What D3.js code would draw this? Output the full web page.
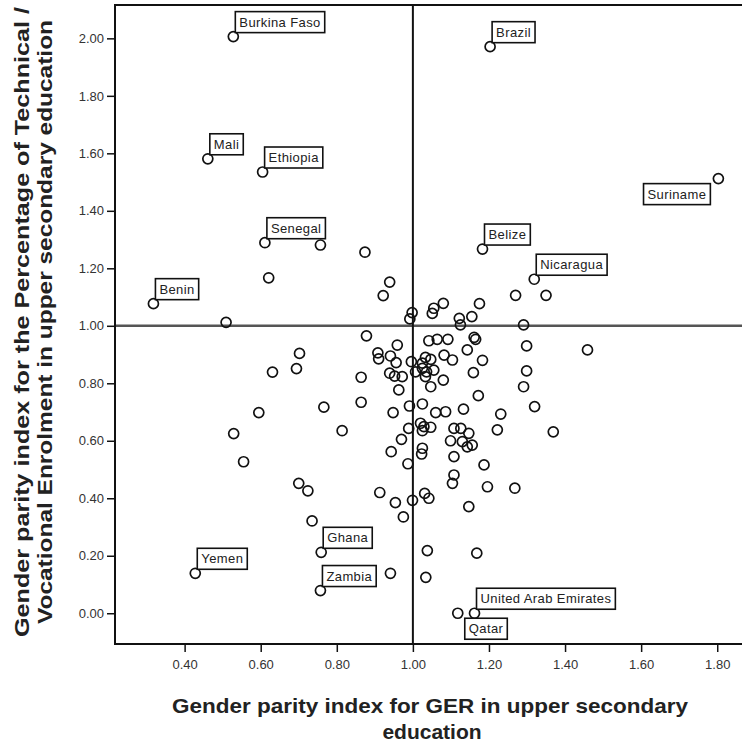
<!DOCTYPE html>
<html>
<head>
<meta charset="utf-8">
<script src="https://cdn.jsdelivr.net/npm/d3@7"></script>
<style>
  html, body { margin: 0; padding: 0; background: #fff; }
  svg { display: block; font-family: "Liberation Sans", Arial, Helvetica, sans-serif; }
</style>
</head>
<body>
<svg id="chart" width="742" height="743"></svg>
<script>
// ---- data ----
const xTicks = [0.4, 0.6, 0.8, 1.0, 1.2, 1.4, 1.6, 1.8];
const yTicks = [0, 0.2, 0.4, 0.6, 0.8, 1.0, 1.2, 1.4, 1.6, 1.8, 2.0];

// labelled countries: GPI for GER, GPI for TVET share
const countries = ['Burkina Faso', 'Mali', 'Ethiopia', 'Senegal', 'Benin', 'Brazil', 'Suriname',
                   'Belize', 'Nicaragua', 'Ghana', 'Yemen', 'Zambia', 'United Arab Emirates', 'Qatar'];
const gpiGER  = [0.528, 0.461, 0.605, 0.611, 0.318, 1.203, 1.803, 1.183, 1.319, 0.759, 0.428, 0.757, 1.162, 1.118];
const gpiTVET = [2.006, 1.581, 1.535, 1.289, 1.077, 1.971, 1.512, 1.267, 1.162, 0.212, 0.139, 0.079, 0.000, 0.000];

// unlabelled countries [GPI GER, GPI TVET]
const others = [
  [0.757, 1.281], [0.874, 1.256], [0.621, 1.167], [0.939, 1.152], [0.922, 1.105], [0.509, 1.012],
  [0.998, 1.046], [0.992, 1.024], [1.270, 1.106], [1.350, 1.106], [1.080, 1.078], [1.055, 1.061],
  [1.051, 1.043], [1.175, 1.077], [1.122, 1.026], [1.155, 1.032], [1.125, 1.003], [1.291, 1.003],
  [0.878, 0.965], [0.959, 0.933], [1.042, 0.948], [1.064, 0.953], [1.092, 0.953], [1.161, 0.960],
  [1.165, 0.953], [1.143, 0.916], [1.299, 0.930], [1.459, 0.916], [0.702, 0.904], [0.694, 0.851],
  [0.631, 0.839], [0.908, 0.906], [0.910, 0.885], [0.941, 0.895], [0.956, 0.872], [1.082, 0.898],
  [1.104, 0.881], [0.996, 0.875], [1.033, 0.890], [1.047, 0.883], [1.025, 0.870], [1.183, 0.880],
  [0.864, 0.821], [0.939, 0.835], [0.952, 0.825], [0.972, 0.823], [1.007, 0.840], [1.025, 0.852],
  [1.036, 0.840], [1.055, 0.846], [1.033, 0.823], [1.047, 0.788], [1.080, 0.811], [1.159, 0.837],
  [1.299, 0.843], [1.291, 0.788], [0.963, 0.777], [1.172, 0.757], [0.864, 0.734], [0.766, 0.717],
  [0.595, 0.698], [0.948, 0.698], [0.991, 0.721], [1.025, 0.728], [1.060, 0.698], [1.086, 0.701],
  [1.133, 0.710], [1.320, 0.719], [1.231, 0.693], [1.222, 0.638], [1.369, 0.631], [0.814, 0.635],
  [0.529, 0.625], [0.970, 0.605], [0.989, 0.643], [1.020, 0.661], [1.029, 0.649], [1.025, 0.635],
  [1.047, 0.647], [1.108, 0.643], [1.126, 0.643], [1.147, 0.626], [1.099, 0.600], [1.130, 0.597],
  [1.143, 0.579], [1.156, 0.585], [1.108, 0.545], [0.555, 0.527], [0.943, 0.562], [1.025, 0.574],
  [1.023, 0.554], [0.987, 0.520], [1.187, 0.516], [1.108, 0.481], [1.104, 0.452], [1.196, 0.440],
  [1.268, 0.435], [0.700, 0.452], [0.724, 0.426], [0.913, 0.420], [0.954, 0.385], [0.999, 0.393],
  [1.031, 0.417], [1.042, 0.400], [1.147, 0.371], [0.975, 0.335], [0.735, 0.321], [1.038, 0.218],
  [1.168, 0.209], [0.941, 0.139], [1.034, 0.125]
];

// ---- layout ----
const svg = d3.select('#chart');
const L = 115, T = 5, B = 644, R = 745;

const x = d3.scaleLinear().domain([0.217, 1.873]).range([L, R]);
const y = d3.scaleLinear().domain([-0.107, 2.116]).range([B, T]);

// reference lines at parity
svg.append('line')
  .attr('x1', L).attr('x2', R).attr('y1', y(1)).attr('y2', y(1))
  .attr('stroke', '#555').attr('stroke-width', 2.5);
svg.append('line')
  .attr('x1', x(1)).attr('x2', x(1)).attr('y1', T).attr('y2', B)
  .attr('stroke', '#111').attr('stroke-width', 2);

// frame
svg.append('rect')
  .attr('x', L).attr('y', T).attr('width', R - L).attr('height', B - T)
  .attr('fill', 'none').attr('stroke', '#111').attr('stroke-width', 2);

// axes
const fmt = d3.format('.2f');
const xAxis = svg.append('g').attr('transform', `translate(0,${B})`)
  .call(d3.axisBottom(x).tickValues(xTicks).tickFormat(fmt).tickSize(8).tickSizeOuter(0).tickPadding(8));
const yAxis = svg.append('g').attr('transform', `translate(${L},0)`)
  .call(d3.axisLeft(y).tickValues(yTicks).tickFormat(fmt).tickSize(8).tickSizeOuter(0).tickPadding(3));
[xAxis, yAxis].forEach(a => {
  a.select('.domain').remove();
  a.selectAll('.tick line').attr('stroke', '#111').attr('stroke-width', 1.5);
  a.selectAll('.tick text').attr('fill', '#333').attr('font-size', 13)
    .attr('font-family', '"Liberation Sans", Arial, sans-serif');
});

// points
const pts = others.map(d => ({gx: d[0], gt: d[1]}))
  .concat(countries.map((c, i) => ({name: c, gx: gpiGER[i], gt: gpiTVET[i]})));

svg.append('g').selectAll('circle').data(pts).join('circle')
  .attr('cx', d => x(d.gx)).attr('cy', d => y(d.gt)).attr('r', 5)
  .attr('fill', 'none').attr('stroke', '#111').attr('stroke-width', 1.7);

// labels: boxes sit above-right of their point unless said otherwise
const labelSide = { 'Suriname': 'below-left', 'Qatar': 'below-right' };
const gl = svg.append('g');
countries.forEach((c, i) => {
  const px = x(gpiGER[i]), py = y(gpiTVET[i]);
  const g = gl.append('g');
  const t = g.append('text').text(c)
    .attr('font-size', 13).attr('letter-spacing', 0.4).attr('fill', '#222');
  const w = t.node().getComputedTextLength() + 8, h = 21;
  const side = labelSide[c] || 'above-right';
  let bx, by;
  if (side === 'above-right') { bx = px + 2; by = py - 4 - h; }
  else if (side === 'below-left') { bx = px - 8 - w; by = py + 5; }
  else { bx = px + 7; by = py + 5; }
  g.insert('rect', 'text')
    .attr('x', bx).attr('y', by).attr('width', w).attr('height', h)
    .attr('fill', '#fff').attr('stroke', '#111').attr('stroke-width', 1.6);
  t.attr('x', bx + 4).attr('y', by + 15);
});

// axis titles
svg.append('text')
  .attr('x', 430).attr('y', 713).attr('text-anchor', 'middle')
  .attr('font-size', 21).attr('font-weight', 'bold').attr('fill', '#222')
  .attr('textLength', 516).attr('lengthAdjust', 'spacingAndGlyphs')
  .text('Gender parity index for GER in upper secondary');
svg.append('text')
  .attr('x', 432).attr('y', 739).attr('text-anchor', 'middle')
  .attr('font-size', 21).attr('font-weight', 'bold').attr('fill', '#222')
  .text('education');

const yt = svg.append('g').attr('transform', 'translate(0,322) rotate(-90)');
yt.append('text')
  .attr('x', 0).attr('y', 29).attr('text-anchor', 'middle')
  .attr('font-size', 21).attr('font-weight', 'bold').attr('fill', '#222')
  .attr('textLength', 630).attr('lengthAdjust', 'spacingAndGlyphs')
  .text('Gender parity index for the Percentage of Technical /');
yt.append('text')
  .attr('x', 0).attr('y', 52).attr('text-anchor', 'middle')
  .attr('font-size', 21).attr('font-weight', 'bold').attr('fill', '#222')
  .attr('textLength', 604).attr('lengthAdjust', 'spacingAndGlyphs')
  .text('Vocational Enrolment in upper secondary education');
</script>
</body>
</html>
